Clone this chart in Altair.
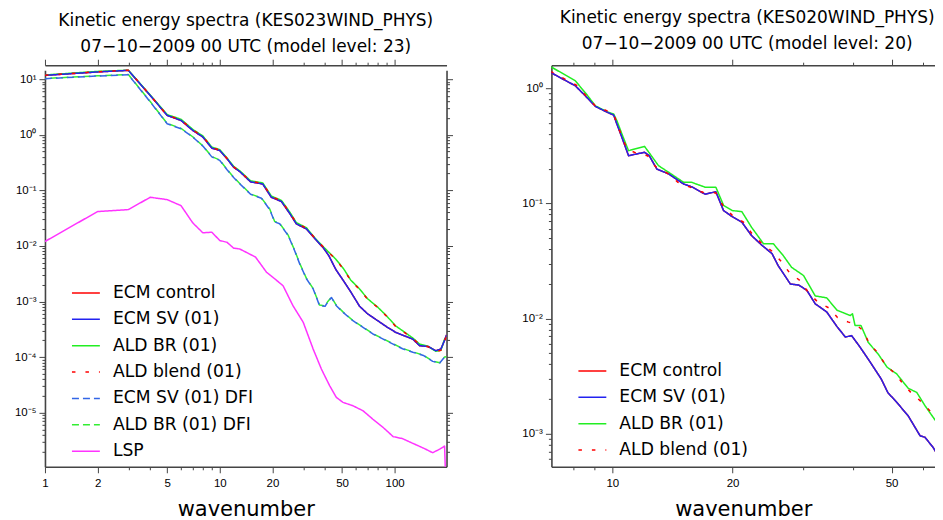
import altair as alt
import pandas as pd

FONT = "Liberation Sans"
TFONT = "DejaVu Sans"

# ---------------- left panel (model level 23) ----------------
left_names = ["ECM control", "ECM SV (01)", "ALD BR (01)", "ALD blend (01)",
              "ECM SV (01) DFI", "ALD BR (01) DFI", "LSP"]
left_colors = ["#ff0000", "#2222f0", "#22ee22", "#ff0000", "#3366e6", "#33ee33", "#ff33ff"]
left_dash = [[1, 0], [1, 0], [1, 0], [3.5, 10], [7, 4], [7, 4], [1, 0]]
left_width = [1.5, 1.5, 1.5, 4, 1.5, 1.5, 1.3]

k_main = [1, 2, 3, 4, 5, 6, 7, 8, 9, 10, 11, 12, 13, 15, 17.6, 19.7, 22.5, 25.2, 27.4,
          31.3, 35, 39, 42, 46, 51, 56, 63, 70, 80, 90, 101, 114, 127, 139, 155, 172,
          184, 193, 198]
ecm_sv_l = [11.7, 13.5, 14.4, 5.1, 2.23, 1.81, 1.2, 0.91, 0.575, 0.52, 0.37, 0.26, 0.218,
            0.142, 0.13, 0.075, 0.063, 0.0377, 0.0249, 0.0202, 0.0135, 0.0093, 0.0067,
            0.0038, 0.00235, 0.0015, 0.00082, 0.0006, 0.00045, 0.00035, 0.00028, 0.00024,
            0.00021, 0.00016, 0.000155, 0.00013, 0.00014, 0.0002, 0.00025]
ecm_ctl_l = [11.7, 13.5, 14.4, 5.1, 2.23, 1.81, 1.2, 0.91, 0.575, 0.52, 0.37, 0.26, 0.218,
             0.142, 0.13, 0.075, 0.063, 0.0377, 0.0249, 0.0202, 0.0135, 0.0093, 0.0067,
             0.0038, 0.00235, 0.0015, 0.00082, 0.0006, 0.00045, 0.00035, 0.00028, 0.00024,
             0.00021, 0.00016, 0.000155, 0.00013, 0.00014, 0.0002, 0.00025]
ald_br_l = [11.9, 13.8, 14.5, 5.2, 2.3, 1.9, 1.25, 0.95, 0.6, 0.54, 0.38, 0.27, 0.225,
            0.148, 0.136, 0.079, 0.066, 0.04, 0.0262, 0.0212, 0.0138, 0.0097, 0.0077,
            0.0058, 0.0039, 0.00244, 0.00168, 0.00112, 0.00079, 0.00055, 0.000366, 0.00028,
            0.00022, 0.000171, 0.000156, 0.000127, 0.000133, 0.00021, 0.00023]
ald_blend_l = [11.8, 13.6, 14.5, 5.1, 2.25, 1.85, 1.22, 0.93, 0.59, 0.53, 0.375, 0.265, 0.22,
               0.145, 0.133, 0.077, 0.065, 0.039, 0.0258, 0.0208, 0.0137, 0.0096, 0.0076,
               0.0057, 0.0038, 0.0024, 0.00165, 0.0011, 0.00078, 0.00054, 0.00036, 0.000275,
               0.000215, 0.000168, 0.000154, 0.000126, 0.000132, 0.0002, 0.00023]

k_dfi = [1, 2, 3, 4, 5, 6, 7, 8, 9, 10, 11, 12, 13, 15, 17.3, 19.3, 20.6, 22, 24.6, 26.8,
         28.6, 31.3, 34.2, 37.2, 40, 41.5, 43.5, 46.4, 50.6, 57.7, 65.9, 75.1, 86, 98, 111,
         127, 146, 165, 181, 193, 198]
ecm_sv_dfi = [10.2, 11.4, 12.0, 3.9, 1.58, 1.28, 0.91, 0.625, 0.40, 0.345, 0.235, 0.17, 0.131,
              0.085, 0.072, 0.045, 0.027, 0.025, 0.0154, 0.0082, 0.0048, 0.00256, 0.00168,
              0.00084, 0.00082, 0.00099, 0.00118, 0.00084, 0.00064, 0.00045, 0.000343,
              0.00026, 0.00021, 0.000171, 0.000141, 0.000122, 0.000107, 0.0000835,
              0.000078, 0.0001, 0.0001]
ald_br_dfi = [10.3, 11.5, 12.1, 3.95, 1.6, 1.3, 0.92, 0.63, 0.405, 0.35, 0.238, 0.172, 0.133,
              0.086, 0.073, 0.046, 0.0275, 0.0254, 0.0156, 0.0083, 0.0049, 0.0026, 0.0017,
              0.00086, 0.00083, 0.001, 0.0012, 0.00085, 0.00065, 0.000455, 0.000347,
              0.000263, 0.000213, 0.000173, 0.000143, 0.000124, 0.000108, 0.0000845,
              0.000079, 0.0001, 0.000101]

k_lsp = [1, 2, 3, 4, 5, 6, 7, 8, 9, 10, 11, 12, 13, 16, 18.5, 20.6, 23, 26.2, 30, 34.2, 38.1,
         42.5, 46.4, 50.6, 57.7, 65.9, 75.1, 86, 98, 111, 127, 146, 165, 181, 193, 198]
lsp = [0.012, 0.0415, 0.045, 0.075, 0.068, 0.053, 0.026, 0.0172, 0.0176, 0.0125, 0.0116,
       0.0091, 0.0088, 0.0063, 0.00336, 0.00256, 0.00192, 0.00084, 0.000422, 0.000139,
       0.0000608, 0.0000304, 0.0000188, 0.0000153, 0.0000133, 0.0000108, 0.0000076,
       0.0000054, 0.0000037, 0.0000034, 0.0000028, 0.0000023, 0.0000019, 0.0000022,
       0.0000025, 0.0000002]

# ---------------- right panel (model level 20) ----------------
right_names = ["ECM control", "ECM SV (01)", "ALD BR (01)", "ALD blend (01)"]
right_colors = ["#ff0000", "#2222f0", "#22ee22", "#ff0000"]
right_dash = [[1, 0], [1, 0], [1, 0], [3.5, 10]]
right_width = [1.5, 1.5, 1.5, 4]

k_sv_r = [7.0, 8.08, 8.56, 9.07, 9.73, 10.08, 10.23, 10.57, 10.98, 12.04, 12.37, 12.93, 13.83,
          15.08, 15.8, 17.07, 18.16, 18.98, 19.96, 21.1, 22.3, 23.7, 25.1, 26.0, 27.9, 29.3,
          30.7, 32.2, 34.4, 36.5, 38.3, 39.7, 41.6, 44.2, 47.1, 48.9, 51.5, 55, 58.9, 60.6,
          63.5, 66.7, 68]
ecm_sv_r = [1.37, 1.047, 0.857, 0.694, 0.615, 0.583, 0.504, 0.373, 0.259, 0.277, 0.259, 0.198,
            0.18, 0.147, 0.139, 0.12, 0.126, 0.0865, 0.0765, 0.0685, 0.0525, 0.0431, 0.0366,
            0.0288, 0.0199, 0.0195, 0.0175, 0.0134, 0.0114, 0.0085, 0.0069, 0.0071, 0.0057,
            0.00418, 0.00298, 0.00228, 0.00187, 0.00143, 0.00096, 0.00093, 0.00076, 0.00057,
            0.0005]
ecm_ctl_r = [1.37, 1.047, 0.857, 0.694, 0.615, 0.583, 0.504, 0.373, 0.259, 0.277, 0.259, 0.198,
             0.18, 0.147, 0.139, 0.12, 0.126, 0.0865, 0.0765, 0.0685, 0.0525, 0.0431, 0.0366,
             0.0288, 0.0199, 0.0195, 0.0175, 0.0134, 0.0114, 0.0085, 0.0069, 0.0071, 0.0057,
             0.00418, 0.00298, 0.00228, 0.00187, 0.00143, 0.00096, 0.00093, 0.00076, 0.00057,
             0.0005]
k_br_r = [7.0, 8.08, 8.65, 9.07, 9.7, 10.08, 10.27, 10.57, 10.98, 12.04, 13.05, 13.83, 15.08,
          15.8, 17.07, 18.16, 18.98, 19.96, 21.1, 22.3, 23.9, 25.3, 26.8, 28.1, 30.1, 32.2,
          34.4, 36.5, 37.9, 39.4, 39.9, 40.5, 41.9, 43.7, 46.3, 48.7, 51.5, 55, 57.8, 60.6,
          63.5, 67.2, 68]
ald_br_r = [1.54, 1.157, 0.87, 0.702, 0.623, 0.595, 0.52, 0.399, 0.286, 0.312, 0.212, 0.186,
            0.152, 0.152, 0.138, 0.138, 0.096, 0.0865, 0.0845, 0.062, 0.0445, 0.0445, 0.035,
            0.0278, 0.0236, 0.0157, 0.0151, 0.0118, 0.0112, 0.0106, 0.011, 0.0087, 0.0087,
            0.0062, 0.0049, 0.00378, 0.0033, 0.00248, 0.00228, 0.00175, 0.00139, 0.00105,
            0.001]
k_bl_r = [7.0, 8.13, 9.07, 10.08, 10.23, 10.57, 10.88, 11.48, 12.25, 12.83, 13.75, 14.6, 15.65,
          16.9, 18.16, 18.9, 20, 21.3, 22.4, 23.7, 25.2, 26.6, 27.7, 29.5, 30.9, 32.6, 34.9,
          36.6, 39, 40.5, 42.5, 44, 46.3, 48.1, 51.1, 53.6, 56.4, 59.4, 62.3, 65.1, 68]
ald_blend_r = [1.4, 1.06, 0.70, 0.60, 0.51, 0.38, 0.296, 0.273, 0.259, 0.208, 0.182, 0.152,
               0.138, 0.124, 0.123, 0.096, 0.078, 0.0685, 0.054, 0.0445, 0.038, 0.0306, 0.0252,
               0.0213, 0.0169, 0.0140, 0.0123, 0.0102, 0.0093, 0.0090, 0.0078, 0.006, 0.005,
               0.0040, 0.0033, 0.00266, 0.0022, 0.00189, 0.00158, 0.00126, 0.00102]

SUP = {"1": "\u00b9", "0": "\u2070", "-1": "\u207b\u00b9", "-2": "\u207b\u00b2",
       "-3": "\u207b\u00b3", "-4": "\u207b\u2074", "-5": "\u207b\u2075", "-6": "\u207b\u2076"}


def long_df(parts):
    rows = []
    for name, ks, vs in parts:
        for k, v in zip(ks, vs):
            rows.append({"series": name, "k": k, "E": v})
    return pd.DataFrame(rows)


def log_ticks(lo, hi):
    out = []
    for e in range(-7, 4):
        for m in range(1, 10):
            v = float(f"{m}e{e}")
            if lo <= v <= hi:
                out.append(v)
    return out


def tick_cond(majors):
    arr = ",".join(repr(m) for m in majors)
    return {"condition": {"test": f"indexof([{arr}], datum.value) >= 0", "value": 6}, "value": 3}


AX = dict(domainColor="#444444", domainWidth=1.6, tickColor="#444444", tickWidth=1,
          labelFont=FONT, labelFontSize=11.5, labelColor="black", grid=False,
          labelOverlap=False, labelBound=False, labelFlush=False)


def x_axis(ticks, majors, orient, title=None):
    arr = ",".join(repr(m) for m in majors)
    if orient == "bottom":
        extra = dict(title=title, titleFont=TFONT, titleFontSize=21, titleFontWeight="normal",
                     titleColor="black", titlePadding=9, labelPadding=5,
                     labelExpr=f"indexof([{arr}], datum.value) >= 0 ? '' + datum.value : ''")
    else:
        extra = dict(title=None, labels=False, minExtent=6, maxExtent=6)
    return alt.Axis(orient=orient, values=ticks, tickSize=tick_cond(majors), **AX, **extra)


def y_axis(ticks, majors, exps, orient, extent=40):
    if orient == "left":
        expr = " : ".join(f"datum.value == {repr(m)} ? '10{SUP[e]}'" for m, e in zip(majors, exps))
        extra = dict(labelExpr=expr + " : ''", labelPadding=3, minExtent=extent, maxExtent=extent)
    else:
        extra = dict(labels=False, minExtent=6, maxExtent=6)
    return alt.Axis(orient=orient, values=ticks, tickSize=tick_cond(majors), title=None, **AX, **extra)


def panel(df, names, colors, dashes, widths, order, offsets, xs, ys, axes_x, axes_y,
          legend, width, height, title):
    layers = []
    for i, name in enumerate(order):
        ax_x = axes_x[i] if i < len(axes_x) else None
        ax_y = axes_y[i] if i < len(axes_y) else None
        lay = alt.Chart(df).transform_filter(alt.datum.series == name).mark_line(
            clip=True, strokeCap="butt", strokeJoin="round", strokeDashOffset=offsets.get(name, 0)
        ).encode(
            x=alt.X("k:Q", scale=xs, axis=ax_x),
            y=alt.Y("E:Q", scale=ys, axis=ax_y),
            color=alt.Color("series:N", scale=alt.Scale(domain=names, range=colors), legend=legend),
            strokeDash=alt.StrokeDash("series:N", scale=alt.Scale(domain=names, range=dashes), legend=legend),
            strokeWidth=alt.StrokeWidth("series:N", scale=alt.Scale(domain=names, range=widths), legend=legend),
        )
        layers.append(lay)
    return alt.layer(*layers).resolve_axis(x="independent", y="independent").properties(
        width=width, height=height, title=title)


def make_legend(x, y):
    return alt.Legend(title=None, orient="none", legendX=x, legendY=y, symbolType="stroke",
                      symbolSize=780, labelFont=TFONT, labelFontSize=17.2, labelOffset=12,
                      rowPadding=2.4, padding=0, labelLimit=400, labelColor="black")


# left
df_left = long_df([
    ("ECM control", k_main, ecm_ctl_l),
    ("ECM SV (01)", k_main, ecm_sv_l),
    ("ALD BR (01)", k_main, ald_br_l),
    ("ALD blend (01)", k_main, ald_blend_l),
    ("ECM SV (01) DFI", k_dfi, ecm_sv_dfi),
    ("ALD BR (01) DFI", k_dfi, ald_br_dfi),
    ("LSP", k_lsp, lsp),
])
xl_dom = [1, 198]
yl_dom = [1.06e-6, 14.5]
xs_l = alt.Scale(type="log", domain=xl_dom, nice=False)
ys_l = alt.Scale(type="log", domain=yl_dom, nice=False, range=[402, 5])
xt_l = log_ticks(*xl_dom)
yt_l = log_ticks(*yl_dom)
xmaj_l = [1, 2, 5, 10, 20, 50, 100]
ymaj_l = [10.0, 1.0, 0.1, 0.01, 0.001, 0.0001, 1e-05]
yexp_l = ["1", "0", "-1", "-2", "-3", "-4", "-5"]

left = panel(
    df_left, left_names, left_colors, left_dash, left_width,
    ["ECM control", "ALD BR (01)", "ECM SV (01)", "ALD blend (01)", "ALD BR (01) DFI",
     "ECM SV (01) DFI", "LSP"],
    {"ALD BR (01) DFI": 5.5},
    xs_l, ys_l,
    [x_axis(xt_l, xmaj_l, "bottom", "wavenumber"), x_axis(xt_l, xmaj_l, "top")],
    [y_axis(yt_l, ymaj_l, yexp_l, "left", extent=37), y_axis(yt_l, ymaj_l, yexp_l, "right")],
    make_legend(26, 213), 402, 402,
    alt.TitleParams(text=["Kinetic energy spectra (KES023WIND_PHYS)",
                          "07\u221210\u22122009 00 UTC (model level: 23)"],
                    font=TFONT, fontSize=17, fontWeight="normal", lineHeight=26, color="black",
                    anchor="middle", frame="group", offset=3),
)

# right
df_right = long_df([
    ("ECM control", k_sv_r, ecm_ctl_r),
    ("ECM SV (01)", k_sv_r, ecm_sv_r),
    ("ALD BR (01)", k_br_r, ald_br_r),
    ("ALD blend (01)", k_bl_r, ald_blend_r),
])
xr_dom = [7.04, 64.2]
yr_dom = [5.16e-4, 1.58]
xs_r = alt.Scale(type="log", domain=xr_dom, nice=False)
ys_r = alt.Scale(type="log", domain=yr_dom, nice=False)
xt_r = log_ticks(*xr_dom)
yt_r = log_ticks(*yr_dom)
xmaj_r = [10, 20, 50]
ymaj_r = [1.0, 0.1, 0.01, 0.001]
yexp_r = ["0", "-1", "-2", "-3"]

right = panel(
    df_right, right_names, right_colors, right_dash, right_width,
    ["ECM control", "ALD BR (01)", "ECM SV (01)", "ALD blend (01)"],
    {},
    xs_r, ys_r,
    [x_axis(xt_r, xmaj_r, "bottom", "wavenumber"), x_axis(xt_r, xmaj_r, "top")],
    [y_axis(yt_r, ymaj_r, yexp_r, "left", extent=40)],
    make_legend(26, 291), 384, 402,
    alt.TitleParams(text=["Kinetic energy spectra (KES020WIND_PHYS)",
                          "07\u221210\u22122009 00 UTC (model level: 20)"],
                    font=TFONT, fontSize=17, fontWeight="normal", lineHeight=26, color="black",
                    anchor="middle", frame="group", offset=6, dx=4),
)

chart = alt.hconcat(left, right, spacing=58).resolve_scale(
    color="independent", strokeDash="independent", strokeWidth="independent"
).resolve_legend(
    color="independent", strokeDash="independent", strokeWidth="independent"
).properties(
    padding={"left": 0, "top": 0, "right": 0, "bottom": 0}, background="white"
).configure_view(stroke=None)

chart.save("out.html", embed_options={"renderer": "svg", "actions": False})
